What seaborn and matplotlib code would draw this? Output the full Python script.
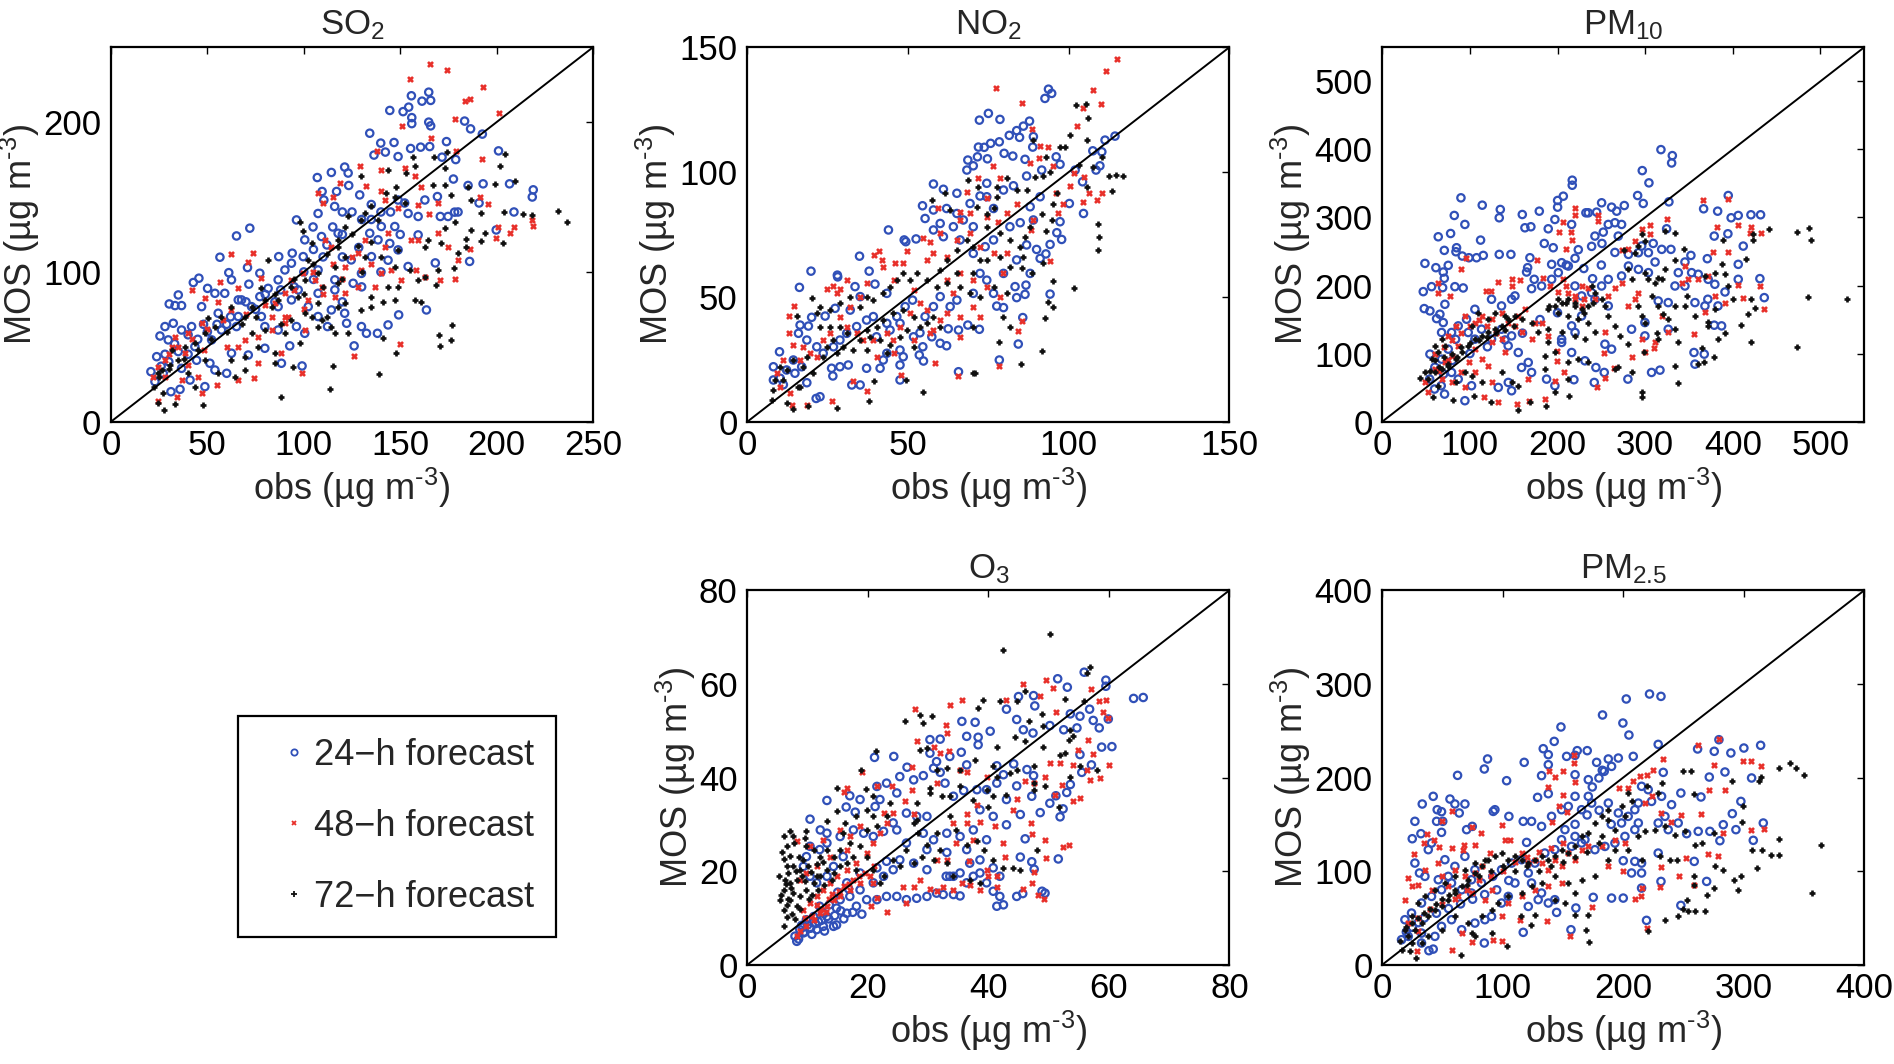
import numpy as np
import pandas as pd
import matplotlib
matplotlib.use("Agg")
import matplotlib.pyplot as plt
import seaborn as sns
from matplotlib.lines import Line2D

# ---------------- data (obs, MOS) ----------------
so2_24h = [(144.6,207.8),(151.5,207),(154.4,210),(155.8,217.6),(161.3,214),(164.8,220),(165.8,214.5),(156,203),(156,199),(164.8,200),(165.8,197.5),(183.4,200.7),(186.5,195.5),(192.6,192),(134.2,192.6),(139.9,186),(146.8,186.4),(142.3,180),(136.4,178),(148.9,177),(155.4,182.4),(160.6,183.3),(165.3,183.7),(174,187),(178.8,175),(171.7,176.6),(201,180.8),(219,154.8),(218.5,150),(206.7,158.8),(209,140),(199.8,128),(178.2,139.9),(186,107),(168.2,106),(163.6,74.6),(121.2,170),(114.3,166.4),(107,163),(123,166),(123.3,157.7),(117,153.7),(109.5,153.7),(110.4,148),(129,151.4),(116,143.7),(107.4,139),(96.2,134.7),(104.8,130),(109.2,123.6),(117.8,125.8),(134.2,125.8),(138.5,121.4),(144.6,119),(143.7,107.8),(135.1,110.2),(128.5,116.3),(124.6,108),(129.9,99),(125.6,92.4),(116.1,94.7),(107.4,101.3),(99.7,110.2),(94,112.5),(87,110.2),(93.6,105.8),(90.2,101.3),(86.7,94.7),(81.5,89),(77.2,83.5),(72,129.2),(65.1,124),(56.5,109.8),(61.1,99.5),(62.5,94.7),(70.8,102.9),(71.5,91.8),(77.2,99.1),(42.7,92.9),(45.6,95.8),(50.1,89),(34.9,84.6),(30.2,78.6),(33.2,77.5),(36.6,77.5),(47,76.8),(28,63.5),(32.3,65.7),(25.4,57.2),(36.6,61.2),(41.8,63.5),(29.7,54.6),(23.7,43.4),(22.8,26.7),(20.7,33.4),(31.1,20),(35.8,21.6),(27.1,32.3),(34.9,46.8),(43.5,50.1),(52.2,54.6),(57.3,61.2),(65.1,63.5),(67.7,81.3),(72.9,76.8),(66,70.2),(55.6,72.4),(62.5,45.7),(71.2,44.5),(79.8,49),(88.4,39),(99.1,37.2),(92.7,50.6),(100.5,59),(96.2,63.5),(86.7,61.2),(79.8,63.5),(78,70.2),(86.7,76.8),(93.6,81.3),(102.3,76.8),(107.4,70.2),(114.3,74.6),(121.2,72.4),(122.2,65.7),(129.9,63.5),(132.5,59),(138.2,59),(143.7,64.6),(149.2,71.3),(126.1,50.6),(112.3,63.5),(107.4,85.7),(116.1,88),(100.5,121.4),(97.1,88),(48.7,23.4),(41,27.8),(36.6,35.6),(44.4,41),(53.9,34.5),(60,32.3),(51.3,39),(59,85.7),(66,81.3),(53.9,85.7),(148.9,148),(152.3,146),(159.3,137),(162.8,148),(154.1,139),(147.2,130.3),(140.2,130.3),(148.9,114.7),(154.1,103.6),(159.3,124.7),(170.8,137),(174.8,137),(180,140),(169.3,150.3),(177.6,162),(185.2,157.7),(193,158.8),(190.9,146),(120,140),(130,135),(112,118),(120,110),(105,95),(95,90),(85,80),(75,75),(60,65),(50,60),(45,55),(40,45),(30,40),(26,37),(140,140),(135,145),(120,125),(110,110),(100,100),(28,45),(33,52),(40,58),(48,65),(55,65),(62,70),(70,80),(80,85),(88,88),(105,115),(115,130),(125,140),(135,135),(145,140),(150,125),(140,100),(130,90),(120,80)]
so2_48h = [(165.3,239),(174.4,234.7),(155.3,228.7),(193,223.4),(183.7,214),(186.3,215.4),(201.2,206),(178.2,202),(151.1,197.3),(166.2,189.3),(192.2,175.3),(178.8,180.4),(138,181),(129,170.8),(140,168),(152.3,169.3),(157.5,163.7),(161,157),(118.7,159.2),(107.4,153),(110,145.9),(115.2,150.3),(132.5,157.5),(140.2,154.3),(142.3,148),(148.9,142.5),(159.3,144.8),(164.8,138.8),(169.6,145.9),(195.5,145.4),(191.2,150.3),(218.3,134.7),(218.8,130.7),(209,129.8),(206.7,125.8),(199.8,122.5),(186,115.1),(180,108),(178.2,95.1),(170.5,94.7),(159.3,121.4),(155.8,121.4),(143.7,125.8),(131.6,121.4),(142,116.9),(128.2,112.5),(129.9,101.3),(121.2,103.6),(140.2,99.1),(136.8,90.2),(128.2,90.2),(121.2,85.7),(116.1,83.5),(109.2,90.2),(105.7,94.7),(114.3,116.9),(110.9,121.4),(99.7,99.1),(93.6,94.7),(90.2,85.7),(85,79),(83.3,70.2),(90.2,65.7),(83.3,61.2),(76.3,56.8),(69.4,54.6),(66,50.1),(73.8,112.5),(62.2,112),(56.5,93.5),(42.1,88),(48.7,82.8),(55.6,80.2),(66,89),(71.2,106.9),(78,95.8),(62.5,74.6),(47,65.7),(40.1,59),(33.2,56.8),(31.4,50.1),(38.4,45.7),(28,41.2),(24.5,36.7),(21.9,30),(36.6,27.8),(45.3,30),(47,18.9),(34,16.3),(24.5,14),(54.8,24.5),(66,27.8),(74.1,29),(76.3,39),(88.4,45.7),(99.1,32.3),(126.1,43.9),(149.7,51.9),(100.5,61.2),(91.9,70.2),(102.3,81.3),(150.6,94.7),(162.7,96.9),(158.4,101.3),(145.4,101.3),(169.6,125.8),(174.8,116.9),(200.7,129.8),(30,45),(35,50),(42,55),(50,62),(58,68),(70,72),(80,78),(95,88),(105,100),(115,105),(125,110),(135,105),(120,95),(110,85),(100,75),(90,70),(60,50),(40,38),(28,30),(48,48)]
so2_72h = [(204.5,178.6),(202,171),(174.3,180),(173,169.7),(167.5,176.6),(156.6,177),(157.5,170.4),(143.7,168),(153.2,165.9),(129.9,163.7),(148,157),(167,158),(176.5,151.4),(173,158),(185.2,156.8),(186.9,148),(199,159),(209.3,160.4),(213.6,138.8),(218.3,138),(232.1,140.5),(236.4,133.6),(203.8,140.3),(203.3,119.6),(192.1,139),(191.7,120.3),(184.3,121.8),(184.3,116.5),(186.9,128),(193.8,126.3),(178.2,133.6),(173,129.2),(171.3,119.2),(164.4,121.4),(162.7,116.9),(180,112.5),(178,102.4),(169.6,101.3),(168.8,91.3),(162.7,96.9),(159.3,94.7),(155,101.3),(147.2,103.6),(148.7,114.7),(143.7,90.2),(148.9,90.2),(157.5,81.3),(161,80.2),(147.2,81.3),(141.1,80.2),(135.1,83.5),(135.1,76.8),(129.9,74.6),(121.2,79),(117.8,76.8),(111.8,70.2),(116.1,59),(114.3,63.5),(107.4,63.5),(104,70.2),(100.5,72.4),(107.4,79),(107.4,99.1),(117.8,92.4),(116.1,103.6),(121.2,110.2),(128.2,117),(131.6,110.2),(117.8,116.9),(121.2,130.3),(123,137),(131.6,139.2),(129.9,134.7),(135.1,143.7),(138.5,134.7),(147.2,150.3),(142.8,152.5),(152.3,145.9),(117.8,121.4),(104,119.2),(98,133.6),(99.7,127.6),(102.3,108),(100.5,94.7),(93.6,90.2),(97.1,83.5),(86.7,81.3),(83.3,76.8),(79.8,81.3),(81.5,108),(78,89),(72.9,76.8),(69.4,70.2),(62.5,76.8),(57.3,70.2),(50.4,69.1),(53.9,63.5),(48.7,59),(43.5,52.3),(38.4,50.1),(31.4,47.9),(34.9,41.2),(30.6,37.8),(26.2,34.5),(24.5,32.3),(22.5,23.4),(27.1,18.9),(24.5,12.2),(27.6,7.8),(33.2,11.6),(47.8,11.1),(43.5,23.4),(40.1,32.3),(48.7,41.2),(55.6,32.3),(64.3,30),(69.4,34.5),(62.5,41.2),(69.4,43.4),(76.3,50.1),(72.9,59),(79.8,61.2),(85,45.7),(85,39),(94.5,36.7),(88.4,16.3),(113.7,21.6),(115.2,37.2),(139,31.8),(148,45.7),(141.1,55.7),(176.9,64.6),(170.1,57.9),(176.5,54.6),(170.5,50.6),(97.9,52.3),(90.2,59),(93.6,68),(109.2,68),(123,59),(25,30),(30,35),(38,42),(45,48),(52,55),(60,60),(68,65),(75,70),(85,85),(95,95),(105,105),(112,112),(125,125),(135,120),(140,110),(130,100),(120,95),(110,90),(100,85),(88,65)]

no2_24h = [(93.7,133.2),(94.7,131.5),(92.6,129.5),(75,123.5),(72.2,120.8),(78.6,121.1),(87.8,120.4),(85.9,118.4),(83.8,116.6),(81.5,114.7),(84.7,113.9),(89,114.2),(78.4,112.1),(71.9,110),(73.7,109.9),(75.7,111.5),(88.8,110),(71.6,106.1),(74.7,105.3),(68.6,104.8),(79.9,107.5),(82.6,106.4),(86.4,105.1),(96.1,106.1),(97.3,103.1),(70.3,102.5),(68.3,100.8),(86.9,98.4),(91.6,100.8),(102,100.8),(109.7,102.5),(108.5,100.8),(110.3,108.1),(107.5,108.5),(111.3,112.8),(114.4,114.4),(104.3,96.1),(104.6,83.4),(100.2,87.4),(97.3,80.1),(96.3,75.7),(97.8,73),(94.2,71),(92.9,67.2),(90,69),(86.9,70.8),(91.1,65.4),(88,59.4),(86.7,54.7),(86.4,51),(83.8,49.7),(79.7,45.7),(77.6,46.3),(85.7,41.7),(84.3,31.1),(78.4,24.7),(94.2,51.1),(83.3,54.1),(65.7,20),(72.2,37),(68.6,38.7),(65.7,36.7),(62.5,37.2),(62,30.4),(60,31.4),(57.4,34),(53.7,35.6),(54.6,30),(53.5,26.7),(54.8,24.3),(47.5,22.7),(47.5,16.7),(47.5,28.7),(48.5,26),(43.4,27.4),(42.3,24.7),(41.3,21.4),(37.1,21.4),(35.1,14.7),(32.5,14.7),(31.4,22.7),(28.8,22),(26.2,21.4),(26.6,18.3),(22.6,10),(21.4,9.3),(18.5,15.6),(16.9,22),(14.8,19.4),(10.2,17.4),(8.1,22),(10,28),(15.9,35.4),(19,38.3),(16.4,38.7),(20,41.8),(24.2,42.3),(27.3,45.4),(16.2,53.8),(19.8,60.3),(28,58.7),(28.1,58),(33.5,54.1),(34.9,66.3),(37.9,60.3),(39.7,55.1),(43.4,51.4),(43.9,76.8),(48.8,72.8),(49.3,72.1),(52.5,73.2),(55.3,81.4),(57.9,95.2),(61,93.1),(54.5,86.5),(57.9,84.8),(62,85.4),(65.2,83.4),(60,79.4),(57.9,76.8),(61,74.1),(64.1,78.1),(67.2,80.8),(70.3,78.1),(66.2,72.8),(72.4,90.4),(65.2,91.5),(69.3,87.4),(74.5,90.1),(76.6,85.4),(79.7,92.8),(82.8,94.5),(74.5,95.5),(76.6,72.8),(74,70.1),(70.3,67.4),(72.4,59.4),(74.5,56.7),(76.6,51.4),(70.3,51.4),(65.2,48.7),(63.1,46.1),(60,50.1),(57.9,46.1),(55.3,42.1),(51.4,48.7),(49.1,46.1),(46.5,42.1),(43.4,39.4),(39.2,42.1),(37.1,40.7),(34,38.1),(30.9,35.4),(28.8,32.7),(26.8,30),(23.6,27.4),(21.6,30),(18.5,32.7),(14.3,24.7),(12.2,20.7),(8.1,16.7),(11.2,14.8),(40.2,34),(44.4,36.7),(51.7,34),(47.5,39.4),(32,44.7),(35.1,50.1),(81.7,78.1),(84.9,79.7),(88,86.1),(91.1,90.1),(89,80.8),(83.8,64.8),(79.7,59.4)]
no2_48h = [(114.9,145.3),(111.5,140.5),(77.4,133.5),(107.7,132.8),(85.4,127.8),(110,127.1),(104.3,125.5),(102.7,118.4),(88.5,117.1),(91.1,110.4),(93.7,109.9),(88,103.7),(90.6,105.5),(95.2,102.4),(101.5,99.5),(104.6,98.1),(100.4,94.5),(96.1,91.7),(106.4,91.7),(110.5,91.7),(108.7,88.8),(104.3,88.1),(98.1,87.2),(96.8,83.4),(89,80.8),(88.2,76.8),(94.2,64.4),(76.3,102.4),(71.9,97.7),(78.6,97.7),(74.5,89.5),(68.3,91.9),(59.4,85.7),(66.2,84.1),(69.3,83.4),(74.5,82.1),(78.1,80.1),(80.7,83.4),(83.8,87.4),(66.2,80.8),(60,75.4),(56.8,72.1),(54.6,73.4),(49.6,68.5),(57.9,67.4),(55.8,64.8),(62,66.1),(65.2,72.8),(69.3,75.4),(72.4,70.1),(76.6,67.4),(80.7,67.4),(79.7,59.4),(78.6,50.1),(74.5,54.1),(70.3,56.7),(66.2,59.4),(62,56.7),(64.1,51.4),(70.3,46.1),(72.4,41.8),(66.2,41.8),(62,43.4),(60,40.7),(57.9,36.7),(56.8,35.4),(66.2,34),(84.3,36.3),(85.6,40.3),(78.4,22.3),(58.4,23.6),(65.7,18.4),(47.8,18.7),(41.1,68.5),(39.4,66.8),(41.8,64.8),(42.3,62.1),(46,63.4),(48.3,63.7),(45.7,56.7),(51.7,52.7),(53.7,47.4),(50.6,43.4),(47.5,38),(43.4,35.4),(45.4,32.7),(39.2,32.7),(34,35.4),(30.9,38.1),(28.8,42.1),(32,46.1),(35.1,50.1),(37.1,55.4),(31.1,56.7),(26.8,54.3),(24.7,53),(27.8,51.4),(28.8,53),(14.6,46.5),(12.8,42.3),(13.1,35.6),(14.3,30.7),(17.4,30),(19.5,27.4),(21.6,26),(16.4,24.7),(11.2,24.7),(9.1,19.4),(10.2,14),(13.3,11.3),(13.8,6.7),(18.5,6.7),(26.2,8.3),(32.8,16.4),(37.1,12.3),(45.7,27.4),(40.2,26),(25.7,35.4),(23.6,32.7),(36.1,32.7),(51.7,32.7),(55.8,44.7)]
no2_72h = [(102.3,126.7),(105.4,127.2),(106.1,121.5),(100.4,114.8),(105.6,112.8),(97.3,109.9),(98.9,109.9),(93,106.1),(94.2,100.1),(89,112.8),(89.5,98.1),(92.1,98.4),(86.9,92.8),(96.3,91.7),(105.6,94.1),(103.3,102.8),(107.7,102.1),(110.3,105.9),(112.4,98.4),(114.7,98.8),(117,98.4),(113.4,92.5),(109.2,79),(109.5,74.1),(109.2,68.8),(101.7,53.7),(95.2,87.4),(94.7,80.8),(93,76.4),(91.6,83),(88,78.1),(86.4,74.1),(84.9,70.1),(81.7,72.8),(78.6,75.4),(83.8,92.8),(80.7,97.7),(77.6,94.1),(77.6,90.1),(76.6,85.7),(74.5,83.1),(74.5,78.1),(71.4,86.1),(68.8,96.8),(71.9,93.9),(61.5,91.5),(57.4,88.8),(63.1,84.8),(68.3,72.8),(70.3,70.1),(72.4,64.8),(65.2,68.8),(62,64.8),(60,60.7),(65.2,59.4),(70.3,59.4),(74.5,64.8),(78.6,66.1),(81.7,62.1),(85.4,61.4),(88.5,59.4),(85.9,66.1),(92.1,63.4),(95.2,56.5),(92.6,41.4),(95,46.1),(93.7,48.1),(91.6,28.3),(85.2,23.1),(78.4,31.8),(81.7,38.1),(79.7,42.1),(80.7,51.4),(76.6,54.1),(72.4,50.1),(69.3,51.4),(66.2,54.1),(62,55.4),(59,54.1),(55.8,56.7),(52.7,59.4),(50.6,56.7),(48.3,59.4),(46.5,56.7),(44.4,54.1),(42.3,51.4),(39.2,48.7),(37.1,50.1),(35.1,46.1),(32,50.1),(28.8,47.4),(25.7,44.7),(22.6,46.1),(20,49.7),(21.6,43.4),(22.6,38.1),(25.7,38.1),(28.8,38.1),(30.9,35.4),(26.8,32.7),(24.7,30),(23.6,26),(27.8,27.4),(29.9,30),(33,28.7),(35.1,32.7),(37.1,36.7),(40.2,38.1),(42.3,40.7),(45.4,43.4),(48.5,44.7),(51.7,42.1),(53.7,38.1),(49.6,36.7),(47.5,34),(44.4,30.7),(41.3,32.7),(38.2,34),(37.1,28.7),(43.4,27.4),(51.7,30),(57.9,42.1),(60,38.1),(55.8,39.4),(70.3,38.1),(70.3,19.4),(70.8,19.6),(54.5,12),(49.3,16.7),(39.5,16.4),(37.7,8.3),(27.8,5.3),(19,6.3),(14.3,4.9),(12.2,7.6),(7.6,8.7),(8.1,12.7),(8.6,16.7),(11.2,16.7),(12.2,20.7),(14.3,24.7),(15.9,14),(17.4,22),(18.5,26),(20.5,19.4),(15.4,42.3),(16.4,14),(10.2,22)]

pm10_24h = [(318,399.6),(331,390.8),(330.2,380),(296.7,368.8),(304.3,350.8),(216.8,354.7),(216.8,347.3),(89.8,328.8),(114.1,318),(134.7,311.7),(133.5,299.5),(82.2,302.9),(94.3,289.7),(63.9,271.6),(78,276.4),(70.8,251.6),(84.8,255.5),(84.1,249.6),(112.2,266.7),(48.7,232.5),(61.2,226.2),(69.6,219.8),(75.3,229.6),(70.8,210.6),(56.3,198.3),(68.9,196.9),(82.9,198.3),(92.4,196.4),(46.8,191),(47.9,166.1),(54.4,162.7),(62,151.4),(69.6,145.6),(71.5,172.4),(65.8,157.8),(91.3,243.3),(98.9,240.8),(107.6,240.8),(115.3,244.2),(133.5,245.7),(146.8,245.7),(159.8,304.3),(179.2,309.2),(200.1,324.9),(206.6,331.2),(200.1,315.1),(216.1,289.7),(162.8,284.8),(169.6,286.3),(189.4,283.3),(197,297),(184.9,261.8),(195.1,255.5),(168.5,240.8),(165.9,226.2),(164.7,219.8),(173.4,209.1),(170.4,195.4),(181.8,199.3),(193.3,209.1),(193.3,231.1),(204.7,233.5),(212.3,228.6),(200.9,218.9),(223.7,252.6),(238.9,257.5),(242.7,272.6),(252.2,278.4),(257.9,289.7),(265.5,292.2),(273.1,289.7),(269.3,272.6),(250.7,261.8),(235.1,306.8),(250.3,321.5),(261.7,315.1),(276.2,317.5),(267.5,309.2),(232.4,306.8),(244.6,307.8),(291.4,332.2),(297.8,320.5),(327.1,322.9),(324.5,283.3),(265.5,248.6),(280.9,245.7),(292.3,248.2),(280.9,228.6),(292.3,223.7),(303.7,218.9),(311.3,234.5),(318.9,253.1),(329.4,253.1),(309.2,261.8),(296,258),(303.7,248.2),(273.1,214),(257.9,209.1),(250.3,199.3),(238.9,189.5),(219.9,199.3),(227.5,184.7),(242.7,179.8),(257.9,170),(227.5,155.3),(216.1,140.7),(220,131),(204.7,116.3),(204.7,121.2),(216.1,101.6),(231.3,89.4),(243.8,79.6),(253.3,72.3),(280.3,62.5),(241.9,57.6),(218.7,61.6),(197,52.8),(187.5,62.5),(170.4,72.3),(166.6,87),(159,79.6),(147.6,45.4),(143.8,57.6),(132.4,50.3),(94.3,30.8),(101.9,52.8),(86.7,62.5),(79.1,72.3),(71.1,40.5),(67.3,52.8),(59.7,47.9),(54.1,62.5),(54.4,99.2),(67.7,91.8),(75.3,106.5),(83.7,121),(98.1,131),(105.7,121.2),(113.3,135.8),(124.7,121.2),(136.1,135.8),(143.7,111.4),(155.2,101.6),(147.6,126),(136.1,170),(147.6,179.8),(151.4,184.7),(124.7,179.8),(105.7,165.1),(96.2,150.5),(86.7,140.7),(79.1,131),(67.7,131),(254.1,113.8),(261.7,106.5),(284.5,135.8),(299.7,145.6),(299.7,126),(326.3,135.8),(307.3,72.3),(316.9,75.7),(355.7,101.6),(367.4,99.2),(356.8,84.5),(378.8,141.7),(387.2,140.7),(371.5,179.8),(383.1,170),(391.1,190.5),(406.2,209.1),(430.9,210.1),(435.9,182.2),(406.2,231.1),(411.9,257.9),(394.4,276),(378.8,272.6),(370.9,239.4),(366.7,312.7),(382.7,309.2),(398.1,299.5),(406.2,302.9),(420.7,303.9),(431.7,303.9),(394.8,332.2),(352.2,244.2),(345.4,234.5),(337.8,218.9),(334,199.3),(353,218.9),(360.6,216.5),(371.9,209.1),(379.5,201.8),(356.8,174.9),(368.2,170),(345.4,199.3),(326.3,174.9),(314.9,177.3),(60,80),(70,70),(80,90),(100,100),(120,110),(140,120),(160,130),(180,150),(200,160),(210,230),(220,240),(230,225),(240,210),(250,230)]
pm10_48h = [(366.3,324.9),(394.8,327.3),(219.8,314.1),(219.8,302.9),(206.6,293.1),(201.4,278.5),(215.8,278.5),(216.6,266.2),(246.5,302.9),(245.7,294.6),(324.5,297),(305.4,288.3),(296,282.4),(305.4,275.1),(288.3,265.3),(381.5,286.3),(406.2,288.3),(420.7,286.3),(432.1,277.5),(419.5,276.6),(377.7,249.6),(394.1,249.6),(280.9,253.1),(273.9,252.1),(209.2,254.1),(176.1,236.9),(95.1,240.3),(89.4,223.7),(63.9,204.2),(63.2,189.5),(77.2,184.7),(117.9,192),(124.6,192),(132.4,205.2),(147.6,210.1),(157.1,207.7),(147.6,199.3),(183.7,211.5),(191.3,199.3),(205.8,210.1),(212.3,189.5),(227.5,199.3),(235.1,196.9),(265.5,196.9),(273.1,204.2),(292.3,189.5),(280.9,170),(288.3,179.8),(341.6,204.2),(349.2,209.1),(345.4,228.6),(360.6,209.1),(371.9,214),(379.5,184.7),(391.1,174.9),(411.9,182.2),(435.9,166.1),(430.9,199.3),(406.2,200.3),(368.2,161.2),(356.1,128.5),(325.6,131.9),(318.8,155.3),(311.1,116.3),(310.3,107.5),(296.7,122.1),(285.3,95.7),(299.7,101.6),(254.1,131),(252.6,100.6),(264.7,78.2),(254.1,63.5),(244.9,50.3),(207.7,72.3),(197,60.1),(198.9,89.4),(198.9,104.1),(189.4,126),(181.8,145.6),(174.2,145.6),(170.4,121.2),(159,131),(166.6,62.5),(167.4,30.8),(185.6,33.2),(154,25.9),(132.4,28.3),(116.4,36.6),(124.8,57.6),(105.7,72.3),(94.3,50.3),(99.3,87.9),(89.8,72.3),(79.1,57.6),(67.7,62.5),(48.7,57.6),(52.5,43),(59.7,77.2),(71.5,87),(79.1,96.7),(86.7,111.4),(75.3,126),(83.7,140.7),(94.3,155.3),(105.7,145.6),(113.3,155.3),(124.7,150.5),(136.1,160.2),(143.7,145.6),(151.4,140.7),(155.2,155.3),(163,165.1),(136.1,121.2),(124.7,116.3),(105.7,106.5),(113.3,91.8),(120.9,82.1),(140,101.6),(219.9,179.8),(227.5,170),(242.7,179.8),(257.9,184.7),(60,100),(70,110),(80,120),(90,130),(100,140),(110,150),(120,140),(130,130),(200,190),(210,200),(220,185),(230,180),(65,75),(75,90)]
pm10_72h = [(487.2,284.8),(489.1,266.2),(472.8,278.5),(441.2,282.4),(422.6,276),(422.6,266.2),(388.4,266.7),(414.6,239.4),(388,231.1),(486.1,183.7),(530,179.8),(472.8,110.4),(420.7,117.7),(408.9,141.7),(420.7,180.8),(425.3,167.6),(417.7,157.8),(400.5,180.8),(379.5,166.1),(391.1,130.9),(383.4,121.2),(394.8,199.3),(391.1,216.4),(379.5,218.9),(368.2,214),(347.3,184.7),(334,170),(345.4,170),(356.8,155.3),(371.2,146.6),(371.9,140.7),(378.8,94.3),(365.2,108.9),(367.6,87.9),(360.6,84.5),(334,82.1),(336.9,116.3),(336.9,56.7),(295.9,43),(295.9,35.7),(334,135.8),(326.3,150.5),(320.6,157.8),(314.9,170),(307.3,184.7),(311.1,204.2),(318.9,209.1),(322.5,223.7),(314.2,211.5),(303.7,209.1),(299.9,218.9),(334,236.9),(344.6,253.1),(334,277),(322.6,280),(299.7,265.3),(295.9,275.1),(292.1,258),(288.3,248.2),(275.8,252.1),(280.7,223.7),(284.5,209.1),(292.1,170),(295.9,155.3),(299.7,145.6),(313.1,130.9),(314.9,121.2),(298.9,101.6),(280.7,113.8),(271.2,126),(265.5,140.7),(257.9,155.3),(254.1,170),(250.3,179.8),(242.7,189.5),(238.9,199.3),(235.1,170),(227.5,165.1),(219.9,174.9),(212.3,179.8),(204.7,174.9),(197,170),(189.4,165.1),(200.9,160.2),(212.3,155.3),(223.7,150.5),(235.1,145.6),(242.7,131),(231.3,121.2),(219.9,126),(204.7,131),(189.4,135.8),(178.1,131),(170.4,145.6),(159,150.5),(151.4,155.3),(143.7,150.5),(136.1,140.7),(128.5,135.8),(120.9,131),(113.3,126),(105.7,121.2),(98.1,111.4),(90.6,101.6),(83.7,91.8),(75.3,82.1),(67.7,77.2),(60.1,72.3),(52.5,62.5),(43,63.5),(48.7,72.3),(56.3,91.8),(63.9,101.6),(71.5,111.4),(67.7,121.2),(60.1,111.4),(63.9,52.8),(58.2,35.7),(81,31.8),(105,38.1),(124,28.3),(155.2,17.1),(168.5,28.3),(186.4,22.5),(197,43),(211.5,62.5),(212.6,38.1),(155.2,52.8),(147.6,57.6),(136.1,72.3),(113.3,57.6),(101.9,67.4),(94.3,72.3),(83.7,57.6),(185.6,77.2),(185.6,96.7),(197,101.6),(189.4,116.3),(212.3,87),(223.7,91.8),(235.1,87),(265.5,77.2),(269.3,79.6),(284.5,72.3),(109.5,160.2),(120.9,150.5),(128.5,160.2),(140,155.3),(101.9,140.7),(60,90),(70,95),(80,100),(90,110),(100,115),(110,120),(120,125),(130,130),(140,135),(150,140),(65,80),(75,85),(85,95),(55,75),(200,180),(210,175),(220,170),(190,170),(230,160),(240,175)]

o3_24h = [(55.9,62.5),(51.5,61.1),(53.1,59.3),(59.5,60.8),(59.5,59.5),(64.1,56.9),(65.7,57.1),(47.5,57.5),(45,57.3),(47.7,55.3),(43,54.6),(53.6,53.6),(55.2,53.1),(56.8,54.6),(57.4,52.2),(59.9,52.5),(58.4,50.6),(54.7,50.6),(52.5,50.2),(50.2,51.1),(47.4,49.5),(45.8,50.2),(44.7,52.4),(60.5,46.6),(58.8,46.5),(55.2,44.9),(57.1,42.7),(55.5,41.1),(53.6,38.5),(53,36.8),(51.2,36.1),(52.4,33.3),(51.9,31.6),(51.6,22.6),(50.2,34.5),(48.6,32.5),(47.2,36),(47.5,40.4),(46.4,41.7),(44.7,38.2),(44.2,42.9),(43,35.3),(45.3,32.1),(43,29.9),(46.1,26.9),(45.3,23),(47.2,22),(47.6,20.4),(48.9,15.7),(49.4,15.3),(44.7,14.6),(45.7,15.2),(42.5,12.8),(41.4,12.5),(41.9,14.6),(40.8,15.7),(39.7,17.5),(38.6,19.6),(37.5,18.9),(36.4,17.5),(35.3,14.7),(34.2,15),(32.5,15),(31.4,15.3),(29.8,14.6),(28.1,14.2),(26.4,13.9),(24.8,14.6),(23.1,14.6),(21.5,13.9),(19.8,13.9),(18.1,12.5),(19,10.8),(16.5,11),(14.8,12.1),(14.3,8.2),(12.6,8.2),(11,10.3),(9.8,9.6),(8.7,7.5),(8.2,5),(7.9,6.1),(9.3,6.8),(11.5,7.5),(13.2,10.3),(12,12.5),(15.4,13.9),(17,14.6),(18.7,16),(20.9,17.5),(22.6,18.9),(24.2,20.3),(25.3,22.4),(27.6,21.7),(29.8,20.3),(33,18.9),(33.6,18.9),(35.3,19.6),(36.4,24.6),(33.1,24),(29.8,24.6),(26.4,26),(24.8,28.8),(22.6,28.5),(20.9,27.4),(19.3,28.1),(17.6,28.8),(15.4,27.4),(13.2,26),(12,24.6),(10.4,25.3),(9.8,23.1),(9.3,21),(10.4,18.9),(11.5,17.5),(13.2,18.9),(14.3,21),(15.9,23.1),(12.1,28.8),(13.2,28.1),(10.4,31.1),(13.2,35.1),(16.4,33.7),(17.9,32.6),(18.7,35.3),(17,36.1),(21.2,33.8),(22,35.3),(21.5,38.1),(23.1,38.8),(24.8,36.7),(25.3,40.2),(26.5,42.2),(27.6,39.5),(29.2,40.4),(30.9,42),(32,41.1),(32.8,38.8),(31.4,43.4),(30.3,45.2),(30.3,48.1),(32,48.2),(33.6,44.5),(35.5,45.4),(36.4,42.7),(36.4,48.8),(38.3,48.6),(38.3,47),(40.3,49.9),(35.6,52),(37.8,51.8),(41.4,42.5),(42.5,40.6),(41.4,38.8),(39.7,37.4),(38.1,37.4),(35.9,37.2),(34.2,36),(38.6,33.1),(40.8,31.7),(39.7,26.7),(37.5,28.8),(35.3,27.4),(33.1,28.1),(30.9,26.7),(29.2,28.1),(28.1,31.7),(29.8,31.7),(26.4,32.4),(24.2,30.3),(21.1,44.3),(24.3,44.5),(23.1,22.1),(21.5,20.7),(18.7,19.6),(16.5,17.5),(38.6,22.4),(36.9,21.7),(34.2,18.9),(41.9,18.9),(40.8,20.7),(10,8.5),(11.8,9.2),(12.5,11.2),(9.2,8),(13.6,12.8),(15,15.5),(16.8,16.2),(8.5,5.5),(9.5,7),(10.5,7.8),(11.3,8.8),(12.3,9.5),(13.5,9.8),(14.5,10.5),(15.5,11.5),(9,8.4),(10.7,6.5),(12.8,7.2),(14.8,8.5),(16,9.8),(17.5,11.2)]
o3_48h = [(49.6,60.8),(50.8,59.1),(51.2,54.1),(45.7,60),(35.6,56.6),(33.6,55.4),(27.8,54.7),(43,56.5),(48.6,57.5),(57.1,58.9),(58.4,56.3),(59.5,56.5),(59.1,53.9),(59.8,52.7),(56.6,48.1),(57.4,45.1),(60,42.7),(58.6,39.9),(56.9,39.5),(56.3,41.7),(54.1,42.7),(54.9,45.9),(51.9,43.1),(50.2,43.1),(49.4,40.2),(52.2,38.5),(51.1,36.3),(55.2,35.6),(54.1,34.9),(53.3,25.6),(52.4,25.1),(49.4,26.6),(49.6,22.8),(47.2,28),(47,30.3),(47.5,38.8),(46.1,39.2),(44.7,35.4),(44.1,33.1),(42.5,26.1),(42.7,23.1),(45.7,16.2),(47.3,17.5),(47.5,19.9),(49.2,14.1),(48.3,15),(41.4,18.9),(40,18.9),(38.6,16),(41.4,16.7),(36.9,17.1),(35.6,17.5),(34.2,16),(32.5,16.7),(31.4,15.7),(30.3,16.2),(28.7,18.2),(27.6,16.7),(25.9,16.7),(26.4,13.2),(23.1,11.2),(20.6,12.6),(21.5,14.2),(20.4,18.9),(20.9,17.5),(18.7,17.5),(17,16),(15.4,14.6),(14.3,13.9),(13.2,12.5),(12.1,11),(11,9.6),(9.8,8.2),(8.7,7.1),(8.2,6.1),(9.3,11.8),(10.4,13.2),(11.5,14.6),(12.6,16),(13.7,17.5),(14.8,18.9),(16.5,20.3),(18.1,21.7),(19.8,23.9),(20.9,26),(22,28.1),(23.1,30.3),(24.2,32.4),(22.6,32.4),(21.5,38.1),(24,38.2),(26.2,34.9),(27.6,32.1),(27.4,37.4),(27.4,42.2),(30.9,46.6),(32,45.2),(33.5,45.6),(33,51.3),(33.1,49.6),(28.1,47.7),(19.1,41.1),(16.6,37.8),(16,37),(8.2,26.4),(10.4,25.3),(12.6,26.7),(15.4,28.8),(17,27.4),(18.7,29.6),(16.5,24.6),(13.7,23.1),(11.5,21),(9.8,19.6),(8.7,18.2),(34.2,30.3),(36.4,30.3),(38.6,30.6),(41.1,29.6),(38.1,34.2),(36.4,32.1),(34.7,26),(33.1,22.4),(31.4,22.4),(36.7,22.1),(37.5,26.7),(39.7,20.3),(35.3,41.7),(36.4,41.1),(39.7,40.2),(31.4,38.8),(10.8,10.5),(12.2,12),(13.5,14),(15.2,15.8),(16.8,17.2),(18.5,19),(9.5,10),(11.5,12.8),(14,15.2),(16,16.8),(17.5,18),(19.5,19.5),(21,21),(13,11.3)]
o3_72h = [(50.3,70.7),(42.4,67.2),(56.8,63.6),(56.3,62.3),(55.8,56.3),(52.7,56.8),(46.1,58.4),(44.7,56.3),(41.9,56.3),(39.1,56.5),(38.3,54.8),(30.6,53.1),(28.7,53.3),(29.2,51.6),(26.2,52.1),(21.4,45.7),(18.8,41.5),(19.7,37.6),(14.8,37.7),(28.7,45.9),(29.8,46.3),(31.4,41.7),(33.1,42),(35.3,41.7),(37.8,43.8),(40.8,42.5),(41.5,46.5),(44.4,48.6),(46.1,47.9),(46.8,52.1),(49.1,51.1),(48.9,53.6),(53.6,50.2),(53.3,48.1),(54.1,48.8),(52.7,45.2),(51.9,44.9),(49.1,46.6),(47.5,42.5),(47.5,38.8),(49.4,38.1),(47.5,37.4),(44.7,41.7),(43.6,41),(41.4,40.2),(39.7,37.4),(40.8,36),(43,36.3),(40,33.8),(37.5,35.3),(35.3,38.1),(33.6,36),(32.3,36),(30.3,37.7),(30.3,36.7),(28.1,34.5),(28.1,31),(27.6,30.3),(28.4,28.1),(29.8,25.6),(31.4,28.1),(33.6,31.7),(34.7,28.8),(36.4,25.6),(39.2,24.6),(38.1,26.4),(40.8,22.4),(42.5,20.7),(44.1,20.7),(45.3,20.3),(48,24.6),(51.8,33.7),(53.6,40.2),(55.2,42.4),(58,41.7),(38.6,17.5),(36.9,18.2),(34.2,18.9),(30.9,22.4),(28.9,23.1),(27.6,21.7),(26.4,24.6),(25.3,21),(24.2,22.4),(22.6,18.9),(22,17.5),(20.9,20.3),(19.8,23.1),(18.7,25.3),(17.6,23.1),(17,26),(15.9,28.1),(15.4,24.6),(14.3,23.1),(13.2,24.6),(12.1,23.1),(11,24.6),(9.8,25.3),(9.3,22.4),(8.7,20.3),(8.2,18.2),(7.1,17.5),(6,16),(5.4,13.9),(6,11.8),(6.6,10.3),(6,8.2),(7.1,13.9),(7.6,15.3),(8.7,14.6),(9.8,16),(11,17.5),(12.1,18.9),(13.2,20.3),(14.3,19.6),(15.4,21),(16.5,21.7),(18.1,20.3),(6,27.4),(7,28.5),(7.6,27.4),(6.5,25.3),(6,22.6),(7.1,23.3),(13.2,30.8),(14.8,32.8),(16.2,30.3),(18.1,31.7),(19.8,33.1),(20.9,31.7),(21.5,29.6),(23.1,31.7),(23.7,34.5),(20.9,36),(19.8,28.8),(9.8,28.5),(32,24.6),(33.1,21.7),(6.8,19.5),(7.5,21),(8.2,12.5),(9.5,17.8),(10.5,19.8),(11.6,21.5),(6.4,17.2),(7.9,9.8),(5.5,15),(6.2,18),(6.8,14),(7.3,16.5),(8,20),(8.5,23),(9,19),(10,21),(10.8,15),(11.5,19),(12.5,22),(6.5,21),(5.8,24),(7.8,26),(9.5,27),(8.8,12),(10.2,14),(11.8,16),(12.8,17),(14,18),(5.2,19),(6.6,12.8),(7.4,10.8)]

pm25_24h = [(221.8,289.2),(231.3,286.7),(202.5,283.9),(182.8,266.8),(199.7,258.2),(204.7,245.4),(148.3,254),(142.7,238.6),(229,235.4),(133.6,230.8),(137.8,224.4),(87.4,219.8),(84.7,209.1),(117.8,216.2),(62.5,202.3),(103.2,196.6),(153,222.6),(160,223.7),(161.8,228.7),(170.1,228.7),(177.9,216.2),(187.6,219.8),(195.9,220.8),(208.3,222.6),(190.3,211.9),(184.2,206.6),(179.8,199.5),(182.6,207.7),(160,203),(171,197.7),(132.2,202),(137.8,213.7),(174.3,189.9),(160,179.9),(171,179.9),(137.8,182.7),(128.9,178.8),(233.2,205.5),(261.7,230.5),(275.5,228),(279.4,240.4),(289.3,226.2),(300.1,231.5),(314,234.4),(271.4,200.5),(284.4,205.9),(306.5,199.5),(247.8,183.4),(264.5,179.2),(297.6,174.5),(290.5,161.4),(283,149.6),(293.5,144.3),(316.2,151.4),(307.9,132.9),(280.2,132.5),(271.9,142.5),(262.2,142.5),(258.9,110.4),(269.2,89),(247.8,63.4),(219.3,47.4),(156.6,37.4),(144.7,55.9),(117,34.6),(84.7,23.2),(42.3,16.7),(38.7,15),(32.6,23.2),(27.1,153.2),(45.6,165.6),(33.2,171.7),(42.3,179.9),(56.2,177),(60.3,171.7),(68.6,171.7),(63.9,162.1),(49.2,163.5),(24.9,134.6),(32.1,140),(45.1,153.2),(50.2,153.2),(49.2,141.4),(40.9,130),(38.2,122.9),(52,112.2),(27.1,108.6),(30.9,98),(35.4,94.4),(46.5,90.8),(54.8,94.4),(60.3,105.1),(68.6,115.8),(76.9,101.5),(74.1,90.8),(70,144.3),(74.7,147.8),(92.1,163.8),(93.5,165.6),(105.1,158.5),(117,153.2),(123.9,153.2),(119.8,130.7),(132.2,147.8),(140.5,158.5),(148.8,165.6),(154.4,169.2),(165.4,165.6),(173.8,172.7),(187.6,172.7),(195.9,162.1),(198.6,151.4),(204.1,158.5),(209.6,165.6),(212.5,151.4),(209.6,144.3),(201.4,137.1),(193.1,130),(184.8,126.4),(176.5,122.9),(165.4,130),(160,137.1),(148.8,133.6),(143.2,122.9),(134.9,119.3),(126.7,108.6),(121.2,98),(110.1,87.3),(104.6,73),(99,65.9),(90.7,51.6),(85.2,48.1),(76.9,44.5),(65.9,37.4),(57.5,48.1),(49.2,41),(43.7,30.3),(32.6,33.8),(21.6,30.3),(16,26.7),(18.8,48.1),(24.3,55.2),(32.6,65.9),(40.9,73),(49.2,80.1),(57.5,87.3),(65.9,80.1),(74.1,76.6),(82.4,87.3),(91.7,94.4),(99,101.5),(107.3,108.6),(115.6,112.2),(123.9,87.3),(132.2,76.6),(137.8,65.9),(143.2,69.5),(129.4,69.5),(121.2,62.3),(160.7,60.6),(175.1,72),(190.3,71.2),(200,71.2),(215.2,81.9),(231.3,89),(215.2,98),(206.9,98),(200,111.1),(209.6,110.4),(215.2,108.6),(229,119.3),(229,151.4),(234.6,158.5),(237.3,144.3),(245.6,151.4),(252.6,140),(240.1,171),(231.8,179.9),(223.5,174.5),(220.7,187),(215.2,190.6),(212.5,172.7),(168.2,133.6),(157.1,126.4),(151.6,144.3),(20,35),(25,40),(30,45),(35,50),(45,55),(55,60),(65,65),(75,70),(85,75),(95,80),(105,90),(160,150),(170,160),(180,165),(190,150)]
pm25_48h = [(279.7,241.5),(261.7,235.1),(275.5,213.7),(299,217.3),(305.7,217.3),(314.2,212.6),(233.2,219.8),(225,208.4),(219.3,203),(213.8,202),(208.3,195.9),(204.1,188.8),(196.4,188.8),(271.4,186.3),(284.4,187),(264.5,161),(247.8,159.6),(239.5,152.1),(283,140.7),(305.9,143.5),(317,145.3),(270.5,118.6),(278.8,116.5),(251.7,114),(246.5,94.4),(258.9,85.5),(231,104),(230.7,83),(215.2,82.3),(214.7,73),(209.6,70.2),(173.7,61.6),(155.7,30.3),(219.3,39.2),(159.3,223.7),(158.8,215.5),(159.9,195.2),(149.6,206.6),(143.3,200.5),(138.3,206.6),(137.2,189.5),(150.2,181.7),(146.9,169.2),(153,162.8),(140.5,152.1),(99,149.6),(81.9,140.7),(74.1,147.1),(76.9,127.9),(68,127.5),(67.2,122.9),(58.1,124.7),(57.5,164.6),(49.2,153.9),(36.8,140),(43.1,133.6),(47,125.4),(34.9,130),(26.5,118.6),(21,92.6),(24.9,83.7),(29.9,85.5),(40.9,80.1),(49.2,94.4),(54.8,83.7),(63.1,73),(68.6,94.4),(76.9,98),(82.4,105.1),(89.4,119.3),(101.8,133.6),(106,133.6),(115.6,119.3),(121.2,108.6),(126.7,112.2),(132.2,108.6),(137.8,101.5),(143.2,112.2),(148.8,105.1),(154.4,119.3),(160,112.2),(165.4,122.9),(171,126.4),(148.8,87.3),(137.8,83.7),(126.7,80.1),(115.6,73),(104.6,65.9),(99,51.6),(92.1,26.7),(99,24.9),(74.1,23.9),(65.9,33.8),(58.1,16),(29,14.2),(29.9,35.6),(21.6,44.5),(18.8,69.5),(35.4,101.5),(46.5,108.6),(60.3,101.5),(74.1,76.6),(85.2,69.5),(90.7,80.1),(136.4,46.3),(114.2,48.1),(182,126.4),(193.1,133.6),(201.4,130),(187.6,105.1),(200,99.7),(231,162.1),(223.5,179.9),(218,172.7),(30,50),(40,60),(50,65),(60,70),(70,80),(80,90),(90,95),(100,100),(110,110),(120,115),(130,120),(140,125),(150,130)]
pm25_72h = [(338.3,215.5),(343,210.2),(350.2,202.3),(329.2,210.2),(314.2,200.5),(312.9,195.9),(289.9,196.6),(256.2,206.6),(249.8,207.3),(259,182.7),(299.6,169.9),(298.2,152.1),(329.5,134.3),(364,128.2),(356.3,76.6),(329.5,117.5),(322.5,117.5),(314.8,122.9),(306.5,122.9),(311.2,102.9),(297.4,94.4),(291.8,90.8),(294.9,80.1),(275.5,81.9),(269.2,74.8),(283,101.5),(276,105.1),(265,130),(259.5,128.2),(275.2,140.7),(251.2,142.5),(242.9,138.9),(234.6,147.8),(226.3,144.3),(218,142.5),(212.5,137.1),(230.5,115.8),(238.7,111.5),(244.3,112.2),(259,95.1),(259,85.5),(252.6,69.5),(249.8,59.5),(254,57),(259.5,57),(267.8,57),(245.6,51.6),(234.6,47.4),(220.7,35.6),(171.8,24.2),(169,37.4),(159.9,53.4),(171,53.4),(151.6,65.9),(143.2,69.5),(126.7,53.4),(123.4,42.7),(115.1,51.6),(103.2,19.6),(90.7,33.8),(76.9,30.3),(74.1,33.8),(65.3,10.7),(27.7,7.1),(23,14.2),(16,16),(14.7,24.9),(21.6,30.3),(27.1,37.4),(32.6,44.5),(38.2,51.6),(43.7,58.8),(49.2,62.3),(54.8,69.5),(60.3,76.6),(65.9,83.7),(71.4,90.8),(76.9,98),(82.4,105.1),(88,112.2),(93.5,115.8),(99,119.3),(104.6,112.2),(110.1,115.8),(115.6,112.2),(121.2,108.6),(126.7,112.2),(132.2,115.8),(137.8,112.2),(143.2,115.8),(148.8,122.9),(154.4,119.3),(160,126.4),(165.4,137.1),(171,140.7),(176.5,151.4),(182,158.5),(187.6,165.6),(198.6,169.2),(204.1,183.4),(207,174.5),(201.4,158.5),(193.1,122.9),(187.6,112.2),(176.5,94.4),(165.4,90.8),(159.9,76.6),(154.4,87.3),(143.2,94.4),(132.2,87.3),(123.9,83.7),(115.6,76.6),(104.6,73),(96.3,65.9),(90.7,58.8),(82.4,51.6),(71.4,44.5),(60.3,51.6),(49.2,37.4),(38.2,30.3),(32.6,23.2),(24.3,23.2),(18.8,37.4),(24.3,51.6),(29.9,65.9),(35.4,73),(43.7,80.1),(52,87.3),(60.3,94.4),(68.6,101.5),(76.9,108.6),(85.2,112.2),(231.8,194.1),(229,183.4),(219.3,191.3),(187.6,154.6),(193.1,144.3),(182,137.1),(204.1,122.9),(215.2,112.2),(20,40),(25,45),(30,50),(35,55),(40,60),(45,65),(50,70),(55,75),(60,80),(70,85),(80,95),(90,100),(100,105),(110,100),(120,105),(130,100),(140,105),(150,110),(160,115),(170,120),(180,130)]

pollutants = ["SO2", "NO2", "PM10", "O3", "PM2.5"]
titles = ["SO$_2$", "NO$_2$", "PM$_{10}$", "O$_3$", "PM$_{2.5}$"]
axis_max = [250, 150, 550, 80, 400]
x_ticks = [[0, 50, 100, 150, 200, 250], [0, 50, 100, 150], [0, 100, 200, 300, 400, 500],
           [0, 20, 40, 60, 80], [0, 100, 200, 300, 400]]
y_ticks = [[0, 100, 200], [0, 50, 100, 150], [0, 100, 200, 300, 400, 500],
           [0, 20, 40, 60, 80], [0, 100, 200, 300, 400]]
leads = ["24\u2212h forecast", "48\u2212h forecast", "72\u2212h forecast"]
series = {
    "SO2": [so2_24h, so2_48h, so2_72h],
    "NO2": [no2_24h, no2_48h, no2_72h],
    "PM10": [pm10_24h, pm10_48h, pm10_72h],
    "O3": [o3_24h, o3_48h, o3_72h],
    "PM2.5": [pm25_24h, pm25_48h, pm25_72h],
}

rows = []
for p in pollutants:
    for lead, pts in zip(leads, series[p]):
        for ox, my in pts:
            rows.append((p, lead, ox, my))
df = pd.DataFrame(rows, columns=["pollutant", "lead", "obs", "mos"])

# ---------------- styling ----------------
sns.set_style("white")
plt.rcParams["font.family"] = ["Liberation Sans", "DejaVu Sans"]
plt.rcParams["mathtext.fontset"] = "custom"
plt.rcParams["mathtext.rm"] = "Liberation Sans"
plt.rcParams["mathtext.it"] = "Liberation Sans:italic"
plt.rcParams["mathtext.bf"] = "Liberation Sans:bold"
plt.rcParams["mathtext.default"] = "regular"

BLUE = "#3050b8"
RED = "#e8302a"
BLACK = "#101010"
styles = {
    leads[0]: dict(marker="o", s=28, facecolor="none", edgecolor=BLUE, color=BLUE, linewidth=1.6),
    leads[1]: dict(marker="x", s=13, color=RED, edgecolor=None, linewidth=1.9),
    leads[2]: dict(marker="+", s=24, color=BLACK, edgecolor=None, linewidth=1.9),
}

fig = plt.figure(figsize=(18.94, 10.64), dpi=100)
W, H = 0.2545, 0.3519
positions = {
    "SO2": [0.0586, 0.6037, W, H],
    "NO2": [0.3946, 0.6037, W, H],
    "PM10": [0.7298, 0.6037, W, H],
    "O3": [0.3946, 0.0933, W, H],
    "PM2.5": [0.7298, 0.0933, W, H],
}

unit_label = "(\u00b5g m$^{\u2010 3}$)"

for i, p in enumerate(pollutants):
    ax = fig.add_axes(positions[p])
    sub = df[df["pollutant"] == p]
    for lead in leads:
        d = sub[sub["lead"] == lead]
        sns.scatterplot(data=d, x="obs", y="mos", ax=ax, legend=False, zorder=2, **styles[lead])
    L = axis_max[i]
    ax.plot([0, L], [0, L], color="black", linewidth=1.4, zorder=5)
    ax.set_xlim(0, L)
    ax.set_ylim(0, L)
    ax.set_xticks(x_ticks[i])
    ax.set_yticks(y_ticks[i])
    ax.tick_params(direction="in", length=5, width=1.0, top=True, right=True,
                   labelsize=25, colors="black")
    ax.tick_params(axis="x", pad=5)
    ax.tick_params(axis="y", pad=7)
    for sp in ax.spines.values():
        sp.set_linewidth(1.6)
        sp.set_color("black")
        sp.set_visible(True)
    ax.set_title(titles[i], fontsize=25, pad=9)
    ax.set_xlabel("obs " + unit_label, fontsize=26, labelpad=3)
    ax.set_ylabel("MOS " + unit_label, fontsize=26, labelpad=1)

handles = [
    Line2D([], [], linestyle="none", marker="o", markersize=4.5, markerfacecolor="none",
           markeredgecolor=BLUE, markeredgewidth=1.3),
    Line2D([], [], linestyle="none", marker="x", markersize=3.5, color=RED, markeredgewidth=1.3),
    Line2D([], [], linestyle="none", marker="+", markersize=4.5, color=BLACK, markeredgewidth=1.3),
]
leg = fig.legend(handles, leads, loc="upper left", bbox_to_anchor=(0.1257, 0.3271),
                 frameon=True, fancybox=False, shadow=False, framealpha=1,
                 edgecolor="black", fontsize=26, handlelength=1.9, handletextpad=-0.4,
                 borderpad=0.6, labelspacing=1.0, borderaxespad=0)
leg.get_frame().set_linewidth(1.6)

fig.savefig("out.png", dpi=100)
